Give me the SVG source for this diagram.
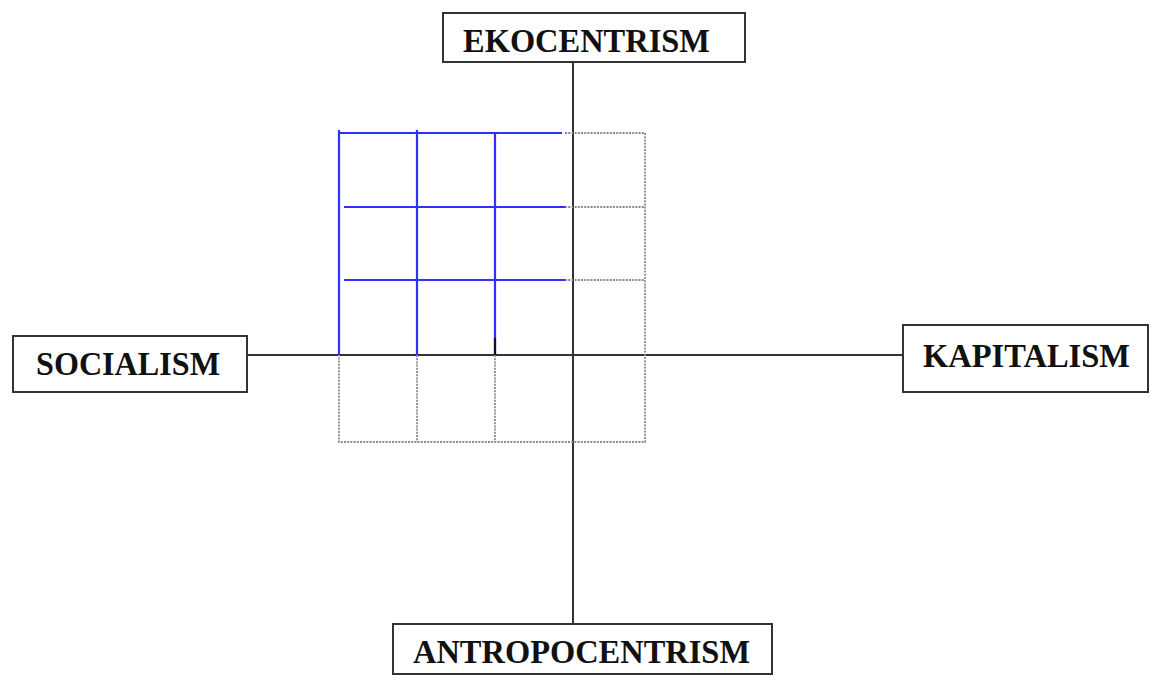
<svg xmlns="http://www.w3.org/2000/svg" width="1151" height="675" viewBox="0 0 1151 675">
<style>
.box{fill:#fff;stroke:#333;stroke-width:2}
.lbl{font-family:"Liberation Serif",serif;font-weight:bold;font-size:34px;fill:#111}
.axis{stroke:#333;stroke-width:2;fill:none}
.grey{stroke:#8a8a8a;stroke-width:1.8;stroke-dasharray:2 1.2;fill:none}
.blue{stroke:#3030ff;stroke-width:2.2;fill:none}
</style>
<rect width="1151" height="675" fill="#fff"/>
<g id="connectors">
<line class="axis" x1="573" y1="62" x2="573" y2="624"/>
<line class="axis" x1="247" y1="355" x2="903" y2="355"/>
</g>
<g id="grid">
<path class="grey" d="M565 133H645V442H339V355M417 355V442M495 355V442M565 207H645M565 280H645"/>
<path class="blue" d="M339 130V355M417 130V355M495 134V355M339 133H562M344 207H565M344 280H565"/>
<line x1="495" y1="338" x2="495" y2="355" stroke="#112" stroke-width="2.2"/>
</g>
<g id="ekocentrism">
<rect class="box" x="443" y="13" width="302" height="49"/>
<text class="lbl" x="463" y="52" textLength="247" lengthAdjust="spacingAndGlyphs">EKOCENTRISM</text>
</g>
<g id="socialism">
<rect class="box" x="13" y="336" width="234" height="56"/>
<text class="lbl" x="36" y="375" textLength="184" lengthAdjust="spacingAndGlyphs">SOCIALISM</text>
</g>
<g id="kapitalism">
<rect class="box" x="903" y="325" width="245" height="67"/>
<text class="lbl" x="923" y="367" textLength="207" lengthAdjust="spacingAndGlyphs">KAPITALISM</text>
</g>
<g id="antropocentrism">
<rect class="box" x="393" y="624" width="379" height="50"/>
<text class="lbl" x="413" y="663" textLength="337" lengthAdjust="spacingAndGlyphs">ANTROPOCENTRISM</text>
</g>
</svg>
